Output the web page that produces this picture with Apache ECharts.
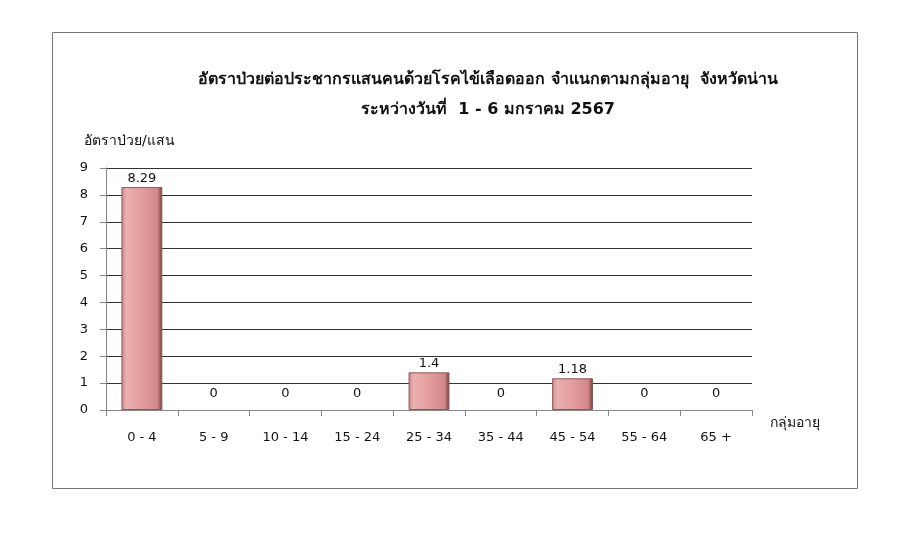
<!DOCTYPE html>
<html lang="th">
<head>
    <meta charset="UTF-8">
    <title>อัตราป่วยต่อประชากรแสนคนด้วยโรคไข้เลือดออก</title>
    <script src="https://cdn.jsdelivr.net/npm/echarts@6/dist/echarts.min.js"></script>
    <style>
        html, body { margin: 0; padding: 0; background: #fff; }
        #main { width: 900px; height: 550px; }
    </style>
</head>
<body>
	<div id="main"></div>
	<script>
        var ageGroups = ['0 - 4', '5 - 9', '10 - 14', '15 - 24', '25 - 34', '35 - 44', '45 - 54', '55 - 64', '65 +'];
        var rates = [8.29, 0, 0, 0, 1.4, 0, 1.18, 0, 0];
        var yTicks = [0, 1, 2, 3, 4, 5, 6, 7, 8, 9];

        var font = 'Tahoma, "DejaVu Sans", "Noto Sans", sans-serif';
        var barFill = new echarts.graphic.LinearGradient(0, 0, 1, 0, [
            { offset: 0, color: '#c98585' },
            { offset: 0.12, color: '#eab0b0' },
            { offset: 0.5, color: '#e39c9c' },
            { offset: 0.88, color: '#d38888' },
            { offset: 1, color: '#6e3c3c' }
        ]);
        // no outline on zero-height bars, their labels sit a bit higher
        var barData = rates.map(function (v) {
            return {
                value: v,
                itemStyle: { borderWidth: v > 0 ? 1 : 0 },
                label: { distance: v > 0 ? 2 : 10 }
            };
        });

	    var myChart = echarts.init(document.getElementById('main'));
	    var option = {
            backgroundColor: '#fff',
	        title: {
	            text: 'อัตราป่วยต่อประชากรแสนคนด้วยโรคไข้เลือดออก จำแนกตามกลุ่มอายุ  จังหวัดน่าน\nระหว่างวันที่  1 - 6 มกราคม 2567',
	            left: 483,
	            top: 60,
	            textAlign: 'center',
                textStyle: {
                    fontFamily: font,
                    fontSize: 16,
                    fontWeight: 'bold',
                    color: '#111',
                    lineHeight: 30
                }
	        },
            graphic: [{
                type: 'rect',
                shape: { x: 52.5, y: 32.5, width: 805, height: 456 },
                style: { fill: 'none', stroke: '#777', lineWidth: 1 }
            }, {
                type: 'text',
                left: 84,
                top: 134,
                style: {
                    text: 'อัตราป่วย/แสน',
                    font: '14px ' + font,
                    fill: '#111'
                }
            }],
	        grid: {
                left: 106,
                right: 148,
                top: 168,
                bottom: 140
	        },
	        yAxis: {
	            type: 'value',
                min: yTicks[0],
                max: yTicks[yTicks.length - 1],
                interval: 1,
                axisLine: { show: true, lineStyle: { color: '#888', width: 1 } },
                axisTick: { show: true, length: 6, lineStyle: { color: '#888' } },
                axisLabel: { fontFamily: font, fontSize: 13, color: '#111', margin: 18 },
                splitLine: { show: true, lineStyle: { color: '#333', width: 1 } }
	        },
	        xAxis: {
	            type: 'category',
	            data: ageGroups,
                name: 'กลุ่มอายุ',
                nameLocation: 'end',
                nameGap: 18,
                nameTextStyle: {
                    fontFamily: font, fontSize: 14, color: '#111',
                    verticalAlign: 'top', padding: [6, 0, 0, 0]
                },
                axisLine: { lineStyle: { color: '#888', width: 1 } },
                axisTick: { show: true, length: 6, alignWithLabel: false, lineStyle: { color: '#888' } },
                axisLabel: { fontFamily: font, fontSize: 13, color: '#111', margin: 21 }
	        },
	        series: [
	            {
	                name: 'อัตราป่วย',
	                type: 'bar',
	                data: barData,
                    barWidth: '57%',
                    itemStyle: {
                        color: barFill,
                        borderColor: '#8a5a5a',
                        borderWidth: 1
                    },
	                label: {
                        show: true,
                        position: 'top',
                        distance: 2,
                        fontFamily: font,
                        fontSize: 13,
                        color: '#111'
                    }
	            }
	        ]
	    };
	    myChart.setOption(option);
	</script>
</body>
</html>
